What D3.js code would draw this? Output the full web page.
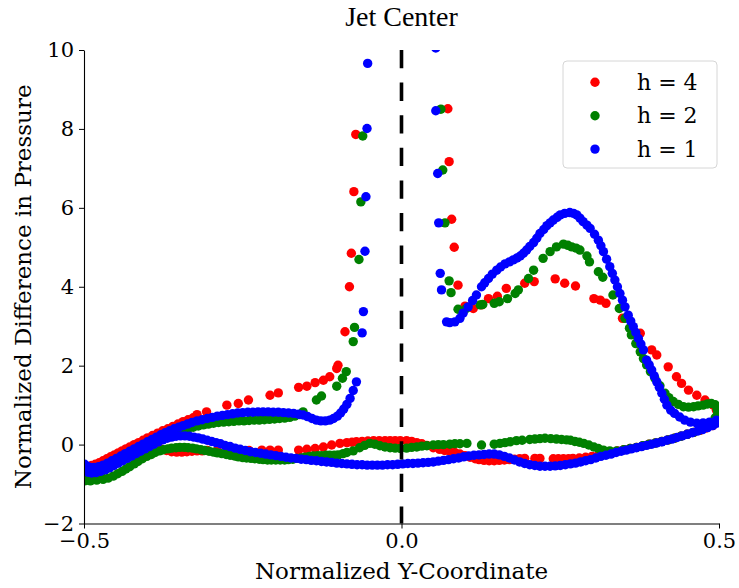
<!DOCTYPE html>
<html><head><meta charset="utf-8">
<script src="https://cdn.jsdelivr.net/npm/d3@7"></script>
<style>body{margin:0;background:#fff}svg{display:block}</style>
</head><body>
<svg id="c" width="739" height="588"></svg>
<script>
// ---- data ----
const xTicks = [-0.5, 0.0, 0.5];
const yTicks = [-2, 0, 2, 4, 6, 8, 10];
const seriesNames = ["h = 4", "h = 2", "h = 1"];

// h = 4 (red)
const redUpperLeft = [[-0.499,-0.56],[-0.494,-0.56],[-0.488,-0.53],[-0.482,-0.5],[-0.476,-0.46],[-0.47,-0.41],[-0.464,-0.36],[-0.458,-0.31],[-0.452,-0.26],[-0.446,-0.21],[-0.44,-0.16],[-0.434,-0.11],[-0.428,-0.06],[-0.421,0.0],[-0.414,0.05],[-0.407,0.11],[-0.4,0.17],[-0.392,0.23],[-0.384,0.29],[-0.376,0.35],[-0.368,0.4],[-0.36,0.46],[-0.352,0.52],[-0.344,0.58],[-0.336,0.63],[-0.328,0.68],[-0.322,0.76],[-0.307,0.83],[-0.275,1.0],[-0.257,1.04],[-0.241,1.13],[-0.207,1.25],[-0.194,1.31],[-0.162,1.45],[-0.149,1.48],[-0.136,1.57],[-0.123,1.63],[-0.113,1.72],[-0.102,1.93],[-0.1,2.01],[-0.089,2.86],[-0.082,4.0],[-0.079,4.85],[-0.075,6.41],[-0.072,7.86]];
const redLower = [[-0.497,-0.6],[-0.49,-0.62],[-0.482,-0.58],[-0.474,-0.53],[-0.466,-0.47],[-0.458,-0.41],[-0.45,-0.35],[-0.442,-0.29],[-0.434,-0.23],[-0.426,-0.17],[-0.418,-0.12],[-0.41,-0.08],[-0.402,-0.06],[-0.394,-0.07],[-0.386,-0.09],[-0.378,-0.12],[-0.37,-0.15],[-0.362,-0.18],[-0.354,-0.19],[-0.346,-0.19],[-0.338,-0.18],[-0.33,-0.17],[-0.322,-0.16],[-0.314,-0.16],[-0.306,-0.15],[-0.29,-0.15],[-0.274,-0.15],[-0.258,-0.15],[-0.24,-0.15],[-0.22,-0.14],[-0.207,-0.14],[-0.194,-0.14],[-0.162,-0.14],[-0.149,-0.12],[-0.136,-0.1],[-0.123,-0.06],[-0.11,-0.01],[-0.097,0.03],[-0.086,0.05],[-0.078,0.06],[-0.071,0.07],[-0.062,0.08],[-0.053,0.09],[-0.044,0.1],[-0.035,0.1],[-0.026,0.1],[-0.018,0.1],[-0.01,0.1],[-0.002,0.1],[0.008,0.1],[0.016,0.08],[0.024,0.05],[0.032,0.02],[0.04,-0.02],[0.05,-0.08],[0.06,-0.12],[0.068,-0.15],[0.076,-0.17],[0.084,-0.2],[0.092,-0.24],[0.1,-0.28],[0.108,-0.32],[0.116,-0.36],[0.122,-0.38],[0.13,-0.4],[0.138,-0.41],[0.146,-0.41],[0.154,-0.4],[0.162,-0.39],[0.17,-0.38],[0.178,-0.37],[0.186,-0.36],[0.194,-0.35],[0.21,-0.35],[0.218,-0.35],[0.239,-0.36],[0.247,-0.36],[0.255,-0.36],[0.263,-0.36],[0.27,-0.35],[0.28,-0.34],[0.29,-0.32],[0.3,-0.3],[0.31,-0.27],[0.32,-0.24],[0.33,-0.2],[0.34,-0.16],[0.35,-0.13],[0.36,-0.1],[0.37,-0.07],[0.38,-0.03],[0.39,0.01],[0.4,0.04],[0.41,0.08],[0.42,0.12],[0.43,0.16],[0.44,0.21],[0.45,0.26],[0.46,0.31],[0.47,0.36],[0.48,0.42],[0.49,0.48],[0.497,0.56]];
const redUpperRight = [[0.073,8.51],[0.075,7.17],[0.079,5.71],[0.083,5.0],[0.089,4.04],[0.1,3.51],[0.113,3.45],[0.126,3.54],[0.137,3.7],[0.151,3.76],[0.165,3.96],[0.194,4.09],[0.209,4.13],[0.242,4.2],[0.257,4.09],[0.274,4.02],[0.303,3.7],[0.313,3.66],[0.322,3.58],[0.348,3.2],[0.376,2.82],[0.394,2.4],[0.402,2.27],[0.42,1.97],[0.433,1.72],[0.441,1.55],[0.452,1.38],[0.465,1.25],[0.478,1.13],[0.491,1.0],[0.496,0.87],[0.498,0.72]];

// h = 2 (green)
const greenUpperLeft = [[-0.495,-0.85],[-0.488,-0.8],[-0.48,-0.74],[-0.472,-0.68],[-0.464,-0.61],[-0.456,-0.54],[-0.448,-0.47],[-0.44,-0.4],[-0.432,-0.33],[-0.424,-0.26],[-0.416,-0.19],[-0.408,-0.12],[-0.4,-0.05],[-0.392,0.02],[-0.384,0.08],[-0.376,0.14],[-0.368,0.2],[-0.36,0.26],[-0.352,0.31],[-0.344,0.36],[-0.336,0.4],[-0.328,0.44],[-0.32,0.47],[-0.312,0.5],[-0.304,0.52],[-0.296,0.54],[-0.288,0.56],[-0.28,0.57],[-0.272,0.58],[-0.264,0.59],[-0.256,0.6],[-0.248,0.6],[-0.24,0.61],[-0.232,0.62],[-0.224,0.62],[-0.216,0.63],[-0.208,0.64],[-0.2,0.65],[-0.192,0.66],[-0.184,0.67],[-0.176,0.69],[-0.168,0.72],[-0.16,0.76],[-0.155,0.83],[-0.134,1.13],[-0.126,1.23],[-0.102,1.48],[-0.093,1.68],[-0.087,1.85],[-0.076,2.61],[-0.074,2.97],[-0.067,4.69],[-0.064,6.15],[-0.061,7.82]];
const greenLower = [[-0.499,-0.92],[-0.49,-0.92],[-0.48,-0.9],[-0.47,-0.88],[-0.462,-0.85],[-0.454,-0.8],[-0.447,-0.74],[-0.44,-0.68],[-0.434,-0.62],[-0.428,-0.56],[-0.421,-0.49],[-0.415,-0.43],[-0.408,-0.36],[-0.401,-0.3],[-0.394,-0.25],[-0.388,-0.2],[-0.381,-0.16],[-0.375,-0.13],[-0.368,-0.11],[-0.362,-0.09],[-0.355,-0.08],[-0.349,-0.07],[-0.342,-0.07],[-0.336,-0.08],[-0.329,-0.09],[-0.323,-0.11],[-0.316,-0.13],[-0.31,-0.15],[-0.303,-0.17],[-0.296,-0.19],[-0.29,-0.21],[-0.283,-0.23],[-0.276,-0.25],[-0.27,-0.27],[-0.263,-0.29],[-0.257,-0.31],[-0.25,-0.33],[-0.244,-0.34],[-0.237,-0.35],[-0.231,-0.36],[-0.224,-0.37],[-0.218,-0.38],[-0.211,-0.39],[-0.205,-0.39],[-0.198,-0.39],[-0.191,-0.39],[-0.184,-0.39],[-0.178,-0.38],[-0.171,-0.37],[-0.165,-0.35],[-0.158,-0.34],[-0.152,-0.32],[-0.145,-0.3],[-0.139,-0.29],[-0.132,-0.28],[-0.126,-0.28],[-0.119,-0.27],[-0.113,-0.27],[-0.106,-0.27],[-0.1,-0.26],[-0.092,-0.23],[-0.086,-0.2],[-0.076,-0.16],[-0.066,-0.08],[-0.058,-0.02],[-0.05,0.03],[-0.042,0.01],[-0.034,-0.03],[-0.026,-0.06],[-0.018,-0.08],[-0.01,-0.09],[-0.002,-0.1],[0.008,-0.09],[0.016,-0.07],[0.024,-0.06],[0.032,-0.04],[0.04,-0.03],[0.05,-0.01],[0.058,0.0],[0.066,0.0],[0.076,0.01],[0.084,0.02],[0.092,0.02],[0.103,0.03],[0.126,-0.01],[0.146,0.01],[0.155,0.03],[0.163,0.05],[0.171,0.07],[0.181,0.1],[0.19,0.11],[0.202,0.13],[0.21,0.14],[0.218,0.15],[0.226,0.16],[0.235,0.15],[0.244,0.14],[0.252,0.13],[0.26,0.12],[0.266,0.11],[0.273,0.08],[0.28,0.06],[0.287,0.03],[0.295,-0.01],[0.303,-0.06],[0.31,-0.1],[0.318,-0.14],[0.328,-0.16],[0.339,-0.16],[0.35,-0.13],[0.36,-0.1],[0.37,-0.07],[0.38,-0.03],[0.39,0.01],[0.4,0.04],[0.41,0.08],[0.42,0.12],[0.43,0.16],[0.44,0.21],[0.45,0.26],[0.46,0.31],[0.47,0.37],[0.48,0.45],[0.488,0.55],[0.494,0.68],[0.498,0.8]];
const greenUpperRight = [[0.062,8.5],[0.065,6.96],[0.0685,5.62],[0.075,4.15],[0.078,3.85],[0.089,3.43],[0.102,3.45],[0.124,3.54],[0.128,3.55],[0.146,3.58],[0.154,3.62],[0.167,3.7],[0.179,3.83],[0.184,3.92],[0.2,4.21],[0.208,4.42],[0.223,4.72],[0.234,4.89],[0.244,5.01],[0.255,5.08],[0.262,5.05],[0.268,5.01],[0.275,4.98],[0.281,4.93],[0.292,4.78],[0.296,4.63],[0.31,4.38],[0.317,4.24],[0.333,3.79],[0.343,3.45],[0.352,3.2],[0.359,2.95],[0.362,2.78],[0.369,2.56],[0.376,2.35],[0.381,2.18],[0.386,2.02],[0.392,1.85],[0.399,1.68],[0.407,1.49],[0.415,1.3],[0.421,1.19],[0.428,1.09],[0.436,1.02],[0.444,0.96],[0.452,0.95],[0.46,0.96],[0.467,0.98],[0.475,1.0],[0.482,1.03],[0.488,1.04],[0.494,1.01],[0.497,0.9]];

// h = 1 (blue)
const blueUpperLeft = [[-0.499,-0.5],[-0.495,-0.55],[-0.49,-0.58],[-0.484,-0.58],[-0.477,-0.56],[-0.47,-0.52],[-0.463,-0.47],[-0.456,-0.41],[-0.449,-0.35],[-0.442,-0.29],[-0.435,-0.23],[-0.428,-0.17],[-0.421,-0.11],[-0.414,-0.05],[-0.407,0.01],[-0.4,0.07],[-0.393,0.13],[-0.386,0.19],[-0.379,0.25],[-0.372,0.3],[-0.365,0.35],[-0.358,0.4],[-0.351,0.44],[-0.344,0.48],[-0.337,0.52],[-0.33,0.56],[-0.322,0.6],[-0.314,0.63],[-0.306,0.66],[-0.298,0.69],[-0.29,0.72],[-0.282,0.74],[-0.274,0.76],[-0.266,0.78],[-0.258,0.8],[-0.25,0.81],[-0.242,0.82],[-0.234,0.82],[-0.226,0.83],[-0.218,0.83],[-0.21,0.83],[-0.202,0.82],[-0.194,0.82],[-0.186,0.81],[-0.178,0.8],[-0.17,0.79],[-0.162,0.77],[-0.155,0.75],[-0.148,0.71],[-0.141,0.66],[-0.134,0.62],[-0.127,0.6],[-0.12,0.6],[-0.113,0.62],[-0.107,0.66],[-0.101,0.72],[-0.096,0.8],[-0.091,0.9],[-0.086,1.02],[-0.081,1.17],[-0.076,1.37],[-0.071,1.59],[-0.062,2.83],[-0.06,3.37],[-0.0575,4.9],[-0.056,6.28],[-0.0543,8.01],[-0.0533,9.66]];
const blueLower = [[-0.499,-0.65],[-0.494,-0.7],[-0.488,-0.72],[-0.481,-0.71],[-0.474,-0.68],[-0.467,-0.64],[-0.46,-0.59],[-0.453,-0.53],[-0.446,-0.47],[-0.439,-0.41],[-0.432,-0.35],[-0.425,-0.29],[-0.418,-0.23],[-0.411,-0.17],[-0.404,-0.11],[-0.397,-0.05],[-0.39,0.01],[-0.383,0.07],[-0.376,0.12],[-0.369,0.16],[-0.362,0.19],[-0.355,0.21],[-0.348,0.22],[-0.341,0.22],[-0.334,0.21],[-0.327,0.19],[-0.32,0.17],[-0.313,0.14],[-0.306,0.11],[-0.299,0.08],[-0.292,0.05],[-0.285,0.02],[-0.278,-0.02],[-0.27,-0.05],[-0.262,-0.09],[-0.254,-0.12],[-0.246,-0.15],[-0.238,-0.18],[-0.23,-0.2],[-0.222,-0.22],[-0.214,-0.24],[-0.206,-0.26],[-0.198,-0.28],[-0.19,-0.3],[-0.182,-0.32],[-0.174,-0.34],[-0.166,-0.35],[-0.158,-0.37],[-0.15,-0.38],[-0.142,-0.4],[-0.134,-0.41],[-0.126,-0.43],[-0.118,-0.44],[-0.11,-0.45],[-0.102,-0.47],[-0.094,-0.48],[-0.086,-0.49],[-0.078,-0.5],[-0.07,-0.51],[-0.062,-0.51],[-0.054,-0.52],[-0.046,-0.52],[-0.038,-0.52],[-0.03,-0.52],[-0.022,-0.51],[-0.014,-0.51],[-0.006,-0.5],[0.002,-0.49],[0.01,-0.48],[0.018,-0.48],[0.026,-0.47],[0.034,-0.46],[0.042,-0.45],[0.05,-0.44],[0.058,-0.42],[0.066,-0.4],[0.074,-0.38],[0.082,-0.36],[0.09,-0.34],[0.098,-0.31],[0.106,-0.29],[0.114,-0.27],[0.122,-0.26],[0.13,-0.25],[0.138,-0.24],[0.146,-0.24],[0.154,-0.26],[0.162,-0.3],[0.17,-0.34],[0.178,-0.39],[0.186,-0.44],[0.194,-0.48],[0.202,-0.51],[0.21,-0.53],[0.218,-0.55],[0.226,-0.55],[0.234,-0.55],[0.242,-0.54],[0.25,-0.53],[0.258,-0.51],[0.266,-0.49],[0.274,-0.47],[0.282,-0.44],[0.29,-0.41],[0.298,-0.38],[0.306,-0.34],[0.314,-0.3],[0.322,-0.27],[0.33,-0.24],[0.338,-0.2],[0.346,-0.17],[0.354,-0.14],[0.362,-0.11],[0.37,-0.08],[0.378,-0.05],[0.386,-0.02],[0.394,0.01],[0.402,0.04],[0.41,0.07],[0.418,0.11],[0.426,0.14],[0.434,0.18],[0.442,0.22],[0.45,0.26],[0.458,0.3],[0.466,0.34],[0.474,0.38],[0.482,0.43],[0.49,0.48],[0.496,0.54]];
const blueUpperRight = [[0.054,10.05],[0.054,8.46],[0.057,6.87],[0.0586,5.62],[0.061,4.34],[0.063,3.92],[0.071,3.11],[0.076,3.09],[0.084,3.11],[0.092,3.2],[0.097,3.33],[0.105,3.49],[0.112,3.65],[0.118,3.79],[0.126,4.0],[0.131,4.1],[0.137,4.21],[0.143,4.32],[0.15,4.42],[0.156,4.5],[0.163,4.58],[0.17,4.63],[0.176,4.68],[0.182,4.73],[0.187,4.78],[0.192,4.85],[0.197,4.93],[0.202,5.02],[0.208,5.12],[0.213,5.23],[0.218,5.35],[0.224,5.45],[0.229,5.55],[0.234,5.62],[0.239,5.69],[0.245,5.76],[0.25,5.82],[0.257,5.86],[0.265,5.88],[0.271,5.86],[0.276,5.82],[0.281,5.74],[0.286,5.65],[0.292,5.56],[0.297,5.48],[0.304,5.33],[0.31,5.18],[0.314,5.04],[0.318,4.89],[0.323,4.7],[0.328,4.51],[0.332,4.34],[0.336,4.17],[0.34,4.0],[0.344,3.83],[0.348,3.66],[0.352,3.49],[0.357,3.28],[0.361,3.13],[0.365,2.99],[0.369,2.84],[0.373,2.69],[0.377,2.55],[0.381,2.4],[0.386,2.14],[0.39,2.02],[0.394,1.89],[0.398,1.74],[0.402,1.59],[0.406,1.45],[0.41,1.3],[0.414,1.15],[0.418,1.0],[0.424,0.87],[0.43,0.79],[0.438,0.7],[0.446,0.62],[0.455,0.57],[0.465,0.54],[0.475,0.55],[0.485,0.57],[0.496,0.62]];

const seriesColors = ["#ff0000", "#008000", "#0000ff"];

// ---- drawing ----
const svg = d3.select("#c");
const L = 84, R = 719, T = 50, B = 523.5;
const x = d3.scaleLinear().domain([-0.5, 0.5]).range([L, R]);
const y = d3.scaleLinear().domain([-2, 10]).range([B, T]);
const serif = "'DejaVu Serif', serif";

svg.append("defs").append("clipPath").attr("id","clip")
  .append("rect").attr("x",L).attr("y",T).attr("width",R-L).attr("height",B-T);

const series = [
  redUpperLeft.concat(redLower, redUpperRight),
  greenUpperLeft.concat(greenLower, greenUpperRight),
  blueUpperLeft.concat(blueLower, blueUpperRight)
];

const plot = svg.append("g").attr("clip-path","url(#clip)");
series.forEach((pts, i) => {
  plot.append("g").selectAll("circle").data(pts).join("circle")
    .attr("cx", d => x(d[0])).attr("cy", d => y(d[1])).attr("r", 4.7)
    .attr("fill", seriesColors[i]);
});

// dashed center line
svg.append("line").attr("x1", x(0)).attr("x2", x(0)).attr("y1", T).attr("y2", B)
  .attr("stroke","#000").attr("stroke-width",3.6).attr("stroke-dasharray","18.3,14.3");

// axes
const fmtX = d3.format(".1f");
const xAxis = svg.append("g").attr("transform",`translate(0,${B})`)
  .call(d3.axisBottom(x).tickValues(xTicks).tickFormat(fmtX).tickSize(5).tickSizeOuter(0).tickPadding(5));
const yAxis = svg.append("g").attr("transform",`translate(${L},0)`)
  .call(d3.axisLeft(y).tickValues(yTicks).tickFormat(d3.format("d")).tickSize(5).tickSizeOuter(0).tickPadding(5));
[xAxis, yAxis].forEach(a => {
  a.selectAll("text").attr("font-family", serif).attr("font-size", 21).attr("fill","#000");
  a.selectAll("line").attr("stroke","#000").attr("stroke-width",1);
  a.select(".domain").attr("stroke","#000").attr("stroke-width",1.1);
});

// labels
svg.append("text").attr("x", x(0)).attr("y", 26).attr("text-anchor","middle")
  .attr("font-family","'Liberation Serif','Times New Roman',serif").attr("font-size",28).text("Jet Center");
svg.append("text").attr("x", x(0)).attr("y", 579).attr("text-anchor","middle")
  .attr("font-family", serif).attr("font-size",23).text("Normalized Y-Coordinate");
svg.append("text").attr("transform",`translate(31,${(T+B)/2}) rotate(-90)`).attr("text-anchor","middle")
  .attr("font-family", serif).attr("font-size",23).text("Normalized Difference in Pressure");

// legend
const lg = svg.append("g");
lg.append("rect").attr("x",563).attr("y",61).attr("width",154).attr("height",107).attr("rx",4)
  .attr("fill","#fff").attr("fill-opacity",0.8).attr("stroke","#d6d6d6").attr("stroke-width",1);
seriesNames.forEach((n, i) => {
  const cy = 82.3 + i * 33.4;
  lg.append("circle").attr("cx",595).attr("cy",cy).attr("r",4.7).attr("fill",seriesColors[i]);
  lg.append("text").attr("x",637).attr("y",cy+7.5).attr("font-family",serif).attr("font-size",22).text(n);
});
</script>
</body></html>
